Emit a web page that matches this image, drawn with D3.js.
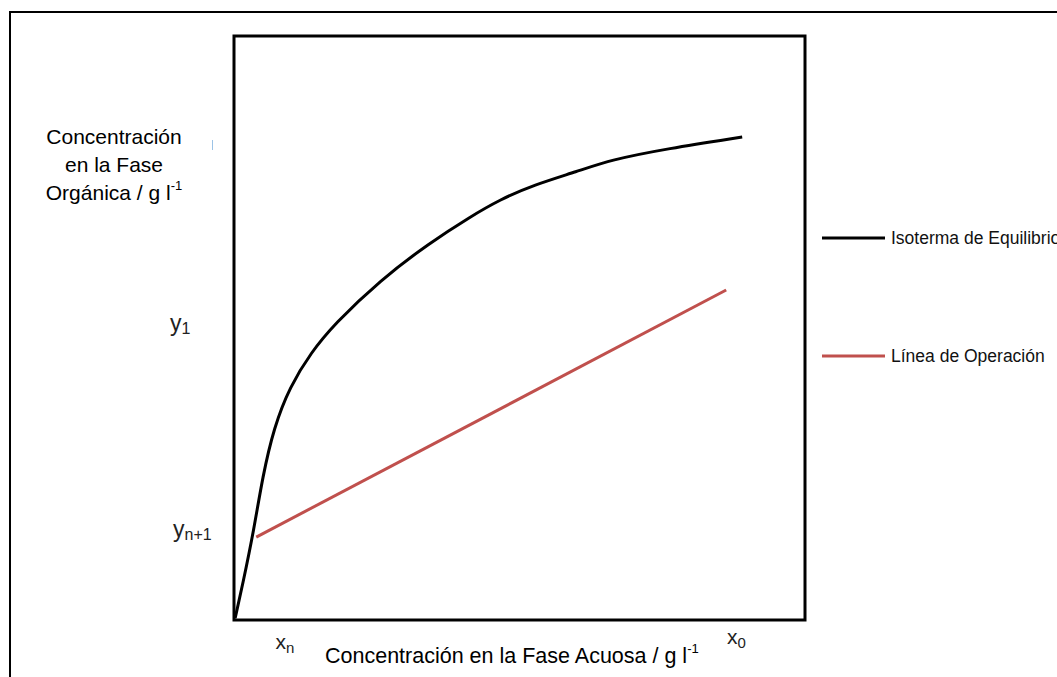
<!DOCTYPE html>
<html>
<head>
<meta charset="utf-8">
<script src="https://cdn.jsdelivr.net/npm/d3@7"></script>
<style>
  body { margin: 0; background: #fff; }
  svg { display: block; font-family: "Liberation Sans", Arial, sans-serif; }
</style>
</head>
<body>
<svg id="chart" width="1057" height="677"></svg>
<script>
// Isoterma de equilibrio (curve, 0-100 units)
var isoX = [0.2, 1.5, 3.5, 5.0, 7.0, 9.8, 13.5, 17.5, 25.6, 34.3, 41.3, 46.6, 52.5, 60.1, 66.0, 75.8, 89.0];
var isoY = [0.3, 6.0, 15.5, 24.5, 33.0, 40.0, 45.8, 50.6, 58.2, 64.6, 69.0, 72.0, 74.5, 76.8, 78.8, 80.7, 82.7];
// Linea de operacion
var opX = [3.9, 86.2];
var opY = [14.2, 56.5];
// axis marker labels
var xTickVals = [8.9, 88];
var xTickMain = ['x', 'x'];
var xTickSub = ['n', '0'];
var yTickVals = [50.5, 15.2];
var yTickMain = ['y', 'y'];
var yTickSub = ['1', 'n+1'];
var seriesNames = ['Isoterma de Equilibrio', 'Línea de Operación'];
var seriesColors = ['#000000', '#c0504d'];

var svg = d3.select('#chart');

// outer frame, runs off the right and bottom edges
svg.append('rect')
  .attr('x', 10).attr('y', 12)
  .attr('width', 1100).attr('height', 700)
  .attr('fill', 'none').attr('stroke', '#000').attr('stroke-width', 2);

var pLeft = 234, pRight = 805, pTop = 36, pBottom = 620;
var x = d3.scaleLinear().domain([0, 100]).range([pLeft, pRight]);
var y = d3.scaleLinear().domain([0, 100]).range([pBottom, pTop]);

// data lines
var line = d3.line()
  .x(function (d) { return x(d[0]); })
  .y(function (d) { return y(d[1]); })
  .curve(d3.curveBasis);

svg.append('path')
  .datum(d3.zip(isoX, isoY))
  .attr('d', line)
  .attr('fill', 'none')
  .attr('stroke', seriesColors[0])
  .attr('stroke-width', 3);

svg.append('path')
  .datum(d3.zip(opX, opY))
  .attr('d', d3.line().x(function (d) { return x(d[0]); }).y(function (d) { return y(d[1]); }))
  .attr('fill', 'none')
  .attr('stroke', seriesColors[1])
  .attr('stroke-width', 3);

// plot box
svg.append('rect')
  .attr('x', pLeft).attr('y', pTop)
  .attr('width', pRight - pLeft).attr('height', pBottom - pTop)
  .attr('fill', 'none').attr('stroke', '#000').attr('stroke-width', 3);

// x markers
xTickVals.forEach(function (v, i) {
  var t = svg.append('text')
    .attr('x', x(v)).attr('y', i == 0 ? 649 : 644)
    .attr('text-anchor', 'middle')
    .attr('font-size', 21).attr('fill', '#222');
  t.append('tspan').text(xTickMain[i]);
  t.append('tspan').text(xTickSub[i]).attr('font-size', 15).attr('dy', 4);
});

// y markers
var yLabelX = [170, 173];
yTickVals.forEach(function (v, i) {
  var t = svg.append('text')
    .attr('x', yLabelX[i]).attr('y', y(v) + 6)
    .attr('font-size', 23).attr('fill', '#222');
  t.append('tspan').text(yTickMain[i]);
  t.append('tspan').text(yTickSub[i]).attr('font-size', 16).attr('dy', 3);
});

// y title
var yTitle = ['Concentración', 'en la Fase', 'Orgánica / g l'];
yTitle.forEach(function (s, i) {
  var t = svg.append('text')
    .attr('x', 114).attr('y', 144 + i * 28)
    .attr('text-anchor', 'middle')
    .attr('font-size', 21).attr('fill', '#000')
    .text(s);
  if (i == 2) t.append('tspan').text('-1').attr('font-size', 13).attr('dy', -10);
});

// little stray tick near the title
svg.append('line')
  .attr('x1', 212.5).attr('x2', 212.5).attr('y1', 140).attr('y2', 150)
  .attr('stroke', '#9cc3e6').attr('stroke-width', 1);

// x title
var xt = svg.append('text')
  .attr('x', 325).attr('y', 663)
  .attr('font-size', 21.5).attr('fill', '#000')
  .text('Concentración en la Fase Acuosa / g l');
xt.append('tspan').text('-1').attr('font-size', 13).attr('dy', -10);

// legend
var legY = [238, 356];
seriesNames.forEach(function (name, i) {
  svg.append('line')
    .attr('x1', 822).attr('x2', 885)
    .attr('y1', legY[i]).attr('y2', legY[i])
    .attr('stroke', seriesColors[i]).attr('stroke-width', 3);
  svg.append('text')
    .attr('x', 891).attr('y', legY[i] + 6)
    .attr('font-size', 17.5).attr('fill', '#111')
    .text(name);
});
</script>
</body>
</html>
